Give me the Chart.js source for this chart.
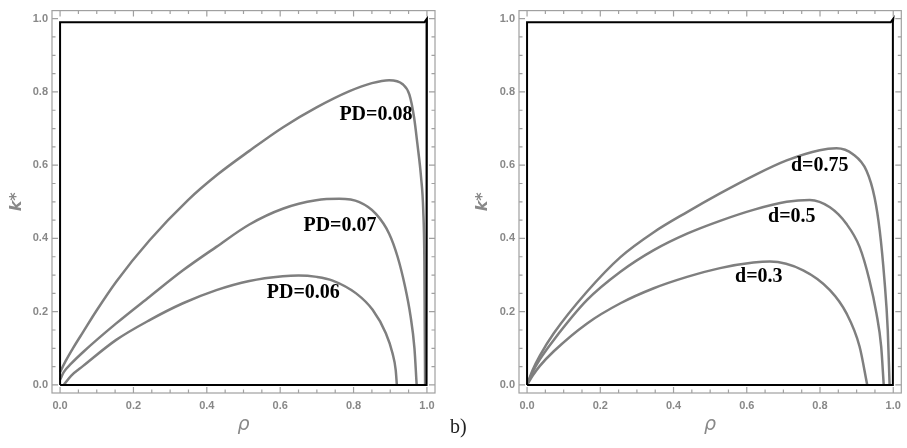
<!DOCTYPE html>
<html>
<head>
<meta charset="utf-8">
<script src="https://cdn.jsdelivr.net/npm/chart.js@4.4.1/dist/chart.umd.min.js"></script>
<style>
  body { margin: 0; background: #fff; }
  #wrap { position: relative; width: 907px; height: 448px; overflow: hidden; }
  .panel { position: absolute; top: 0; height: 448px; }
  #tag { position: absolute; left: 450px; top: 415px; font: 20px "Liberation Serif", serif; color: #222; }
</style>
</head>
<body>
<div id="wrap">
  <div class="panel" style="left:0;width:453px"><canvas id="left-chart" width="453" height="448"></canvas></div>
  <div class="panel" style="left:453px;width:454px"><canvas id="right-chart" width="454" height="448"></canvas></div>
  <div id="tag">b)</div>
</div>
<script>
// axis ticks shown on both panels
const tickValues = [0, 0.2, 0.4, 0.6, 0.8, 1.0];

// boundary contour (black) shared by both panels
const boundRho = [0, 0, 0.993, 1.0, 0.999, 0.999, 0];
const boundK   = [0, 0.99, 0.99, 1.0, 0.99, 0, 0];

// left panel: PD curves
const rhoPD08 = [0, 0.015, 0.035, 0.063, 0.1, 0.153, 0.244, 0.348, 0.43, 0.516, 0.607, 0.698, 0.789, 0.85, 0.897, 0.934, 0.952, 0.965, 0.974, 0.984, 0.99, 0.993, 0.994, 0.995];
const kPD08   = [0.035, 0.065, 0.1, 0.145, 0.204, 0.282, 0.395, 0.504, 0.575, 0.639, 0.703, 0.757, 0.802, 0.824, 0.832, 0.821, 0.793, 0.73, 0.658, 0.567, 0.476, 0.34, 0.17, 0];

const rhoPD07 = [0, 0.01, 0.03, 0.063, 0.153, 0.244, 0.335, 0.426, 0.516, 0.607, 0.698, 0.761, 0.816, 0.861, 0.897, 0.92, 0.94, 0.955, 0.966, 0.972];
const kPD07   = [0.014, 0.035, 0.058, 0.09, 0.168, 0.241, 0.313, 0.377, 0.438, 0.481, 0.504, 0.508, 0.499, 0.467, 0.413, 0.35, 0.27, 0.19, 0.1, 0];

const rhoPD06 = [0.01, 0.03, 0.063, 0.153, 0.244, 0.335, 0.426, 0.516, 0.607, 0.65, 0.7, 0.743, 0.807, 0.852, 0.888, 0.906, 0.915, 0.918];
const kPD06   = [0, 0.025, 0.052, 0.123, 0.177, 0.223, 0.259, 0.284, 0.297, 0.299, 0.295, 0.285, 0.25, 0.205, 0.141, 0.087, 0.04, 0];

// right panel: d curves
const rhoD75 = [0, 0.015, 0.035, 0.073, 0.164, 0.255, 0.346, 0.437, 0.527, 0.618, 0.709, 0.799, 0.845, 0.89, 0.927, 0.949, 0.963, 0.976, 0.985, 0.99];
const kD75   = [0, 0.04, 0.08, 0.141, 0.255, 0.349, 0.417, 0.472, 0.523, 0.571, 0.613, 0.641, 0.646, 0.63, 0.585, 0.512, 0.422, 0.286, 0.15, 0];

const rhoD50 = [0, 0.015, 0.035, 0.073, 0.164, 0.255, 0.346, 0.437, 0.527, 0.618, 0.709, 0.772, 0.827, 0.872, 0.908, 0.935, 0.954, 0.967, 0.974];
const kD50   = [0, 0.035, 0.07, 0.123, 0.232, 0.309, 0.368, 0.413, 0.448, 0.478, 0.5, 0.505, 0.485, 0.44, 0.377, 0.286, 0.196, 0.105, 0];

const rhoD30 = [0, 0.015, 0.035, 0.073, 0.164, 0.255, 0.346, 0.437, 0.527, 0.618, 0.663, 0.754, 0.827, 0.872, 0.908, 0.929];
const kD30   = [0, 0.025, 0.052, 0.092, 0.168, 0.223, 0.264, 0.295, 0.319, 0.334, 0.337, 0.313, 0.259, 0.196, 0.105, 0];

const pairs = (xs, ys) => xs.map((x, i) => ({ x: x, y: ys[i] }));

function curve(xs, ys) {
    return { data: pairs(xs, ys), borderColor: '#7f7f7f', borderWidth: 2.5, cubicInterpolationMode: 'monotone' };
}

// Draws the Mathematica-like frame with inward ticks, plus curve labels
const framePlugin = {
    id: 'frame',
    afterDraw(chart, args, opts) {
        const ctx = chart.ctx;
        const a = chart.chartArea;
        const xs = chart.scales.x, ys = chart.scales.y;
        ctx.save();
        ctx.strokeStyle = '#a0a0a0';
        ctx.lineWidth = 1.2;
        ctx.strokeRect(a.left, a.top, a.right - a.left, a.bottom - a.top);
        for (let i = 0; i <= 20; i++) {
            const v = i * 0.05;
            const len = i % 4 === 0 ? 6 : 3.5;
            const px = xs.getPixelForValue(v);
            const py = ys.getPixelForValue(v);
            ctx.beginPath();
            ctx.moveTo(px, a.bottom); ctx.lineTo(px, a.bottom - len);
            ctx.moveTo(px, a.top); ctx.lineTo(px, a.top + len);
            ctx.moveTo(a.left, py); ctx.lineTo(a.left + len, py);
            ctx.moveTo(a.right, py); ctx.lineTo(a.right - len, py);
            ctx.stroke();
        }
        ctx.fillStyle = '#000';
        ctx.font = 'bold 20px "Liberation Serif", serif';
        ctx.textAlign = 'center';
        ctx.textBaseline = 'middle';
        opts.labels.forEach(l => {
            ctx.fillText(l.text, xs.getPixelForValue(l.x), ys.getPixelForValue(l.y));
        });
        ctx.restore();
    }
};

function makeChart(id, datasets, labels, padLeft, axisWidth, padRight) {
    const tickFont = { family: '"Liberation Sans", Arial, sans-serif', size: 11, weight: 'bold' };
    return new Chart(document.getElementById(id).getContext('2d'), {
        type: 'scatter',
        data: { datasets: datasets },
        plugins: [framePlugin],
        options: {
            responsive: false,
            animation: false,
            devicePixelRatio: 1,
            showLine: true,
            elements: { point: { radius: 0 } },
            layout: { padding: { left: padLeft, right: padRight, top: 9, bottom: 0 } },
            plugins: {
                legend: { display: false },
                tooltip: { enabled: false },
                frame: { labels: labels },
            },
            scales: {
                x: {
                    type: 'linear',
                    min: -0.022,
                    max: 1.022,
                    afterBuildTicks: s => { s.ticks = tickValues.map(v => ({ value: v })); },
                    afterFit: s => { s.height = 55; },
                    grid: { display: false, drawTicks: false },
                    border: { display: false },
                    ticks: { callback: v => v.toFixed(1), color: '#888', font: tickFont, padding: 6, maxRotation: 0, autoSkip: false },
                    title: {
                        display: true, text: 'ρ', color: '#888',
                        font: { family: '"DejaVu Sans", sans-serif', size: 19, style: 'italic' },
                        padding: { top: 0, bottom: 12 },
                    },
                },
                y: {
                    type: 'linear',
                    min: -0.022,
                    max: 1.022,
                    afterBuildTicks: s => { s.ticks = tickValues.map(v => ({ value: v })); },
                    afterFit: s => { s.width = axisWidth; },
                    grid: { display: false, drawTicks: false },
                    border: { display: false },
                    ticks: { callback: v => v.toFixed(1), color: '#888', font: tickFont, padding: 4, autoSkip: false },
                    title: {
                        display: true, text: 'k*', color: '#888',
                        font: { family: '"DejaVu Sans", sans-serif', size: 16, style: 'italic', weight: 'bold' },
                        padding: { top: 7, bottom: 0 },
                    },
                },
            },
        },
    });
}

const boundary = () => ({ data: pairs(boundRho, boundK), borderColor: '#000', borderWidth: 2, tension: 0 });

makeChart('left-chart', [
    boundary(),
    curve(rhoPD08, kPD08),
    curve(rhoPD07, kPD07),
    curve(rhoPD06, kPD06),
], [
    { text: 'PD=0.08', x: 0.861, y: 0.737 },
    { text: 'PD=0.07', x: 0.763, y: 0.434 },
    { text: 'PD=0.06', x: 0.663, y: 0.251 },
], 0, 52, 18);

makeChart('right-chart', [
    boundary(),
    curve(rhoD75, kD75),
    curve(rhoD50, kD50),
    curve(rhoD30, kD30),
], [
    { text: 'd=0.75', x: 0.799, y: 0.597 },
    { text: 'd=0.5', x: 0.723, y: 0.46 },
    { text: 'd=0.3', x: 0.633, y: 0.294 },
], 13, 53, 5);
</script>
</body>
</html>
